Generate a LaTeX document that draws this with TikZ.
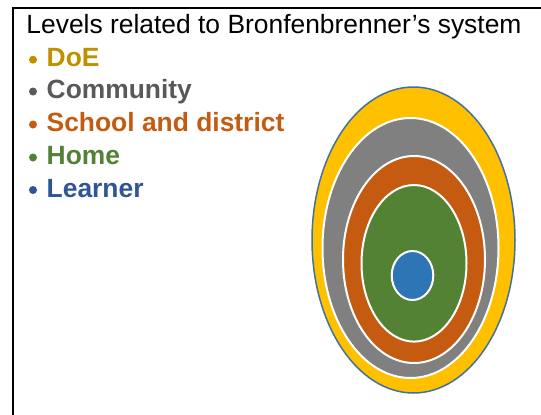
\documentclass[tikz,border=0pt]{standalone}
\usepackage{fontspec}
\setmainfont{Liberation Sans}
\definecolor{doec}{HTML}{BF9000}
\definecolor{comc}{HTML}{595959}
\definecolor{schc}{HTML}{C55A11}
\definecolor{homc}{HTML}{538135}
\definecolor{lrnc}{HTML}{2F5597}
\definecolor{ringy}{HTML}{FFC000}
\definecolor{ringg}{HTML}{808080}
\definecolor{ringo}{HTML}{C55A11}
\definecolor{ringgr}{HTML}{548235}
\definecolor{ringb}{HTML}{2E75B6}
\definecolor{edgec}{HTML}{41719C}
\tikzset{
  lbl/.style={anchor=base west, inner sep=0pt, font=\fontsize{26.4pt}{30pt}\selectfont},
  itm/.style={lbl, font=\fontsize{26.4pt}{30pt}\selectfont\bfseries},
  ring/.style={draw=white, line width=2pt},
}
\begin{document}
\begin{tikzpicture}[x=1pt,y=-1pt]
\useasboundingbox (0,0) rectangle (541,415);
% frame
\draw[line width=2pt] (13,415) -- (13,8) -- (541,8);
% title and items
\node[lbl] (title) at (26.3,33.3) {Levels related to Bronfenbrenner’s system};
\node[itm, text=doec] (doe) at (46.5,66.7) {DoE};
\node[itm, text=comc] (com) at (46.5,98.5) {Community};
\node[itm, text=schc] (sch) at (46.5,131.5) {School and district};
\node[itm, text=homc] (hom) at (46.5,164.5) {Home};
\node[itm, text=lrnc] (lrn) at (46.5,197) {Learner};
\fill[doec] (33,59.7) circle (4);
\fill[comc] (33,91.5) circle (4);
\fill[schc] (33,124.5) circle (4);
\fill[homc] (33,157.5) circle (4);
\fill[lrnc] (33,190) circle (4);
% rings
\draw[fill=ringy, draw=edgec, line width=1.5pt] (413.5,240) ellipse [x radius=101.5, y radius=153];
\draw[ring, fill=ringg] (410.5,248) ellipse [x radius=88, y radius=130];
\draw[ring, fill=ringo] (414,259.5) ellipse [x radius=71, y radius=103.5];
\draw[ring, fill=ringgr] (414,263.3) ellipse [x radius=52.5, y radius=78.3];
\draw[ring, fill=ringb] (412.5,275.5) ellipse [x radius=20.8, y radius=24.5];
\end{tikzpicture}
\end{document}
